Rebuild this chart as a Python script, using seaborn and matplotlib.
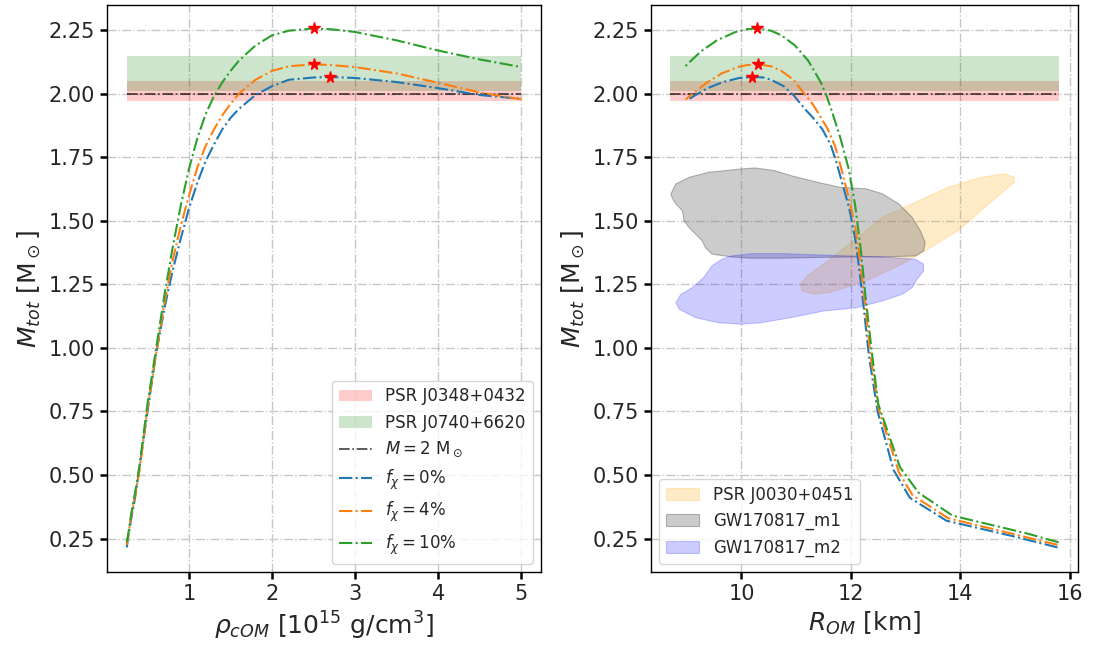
import numpy as np
import pandas as pd
import matplotlib
matplotlib.use("Agg")
import matplotlib.pyplot as plt
import seaborn as sns

# ---------------- data ----------------
rho = [0.25, 0.27, 0.30, 0.35, 0.40, 0.50, 0.60, 0.70, 0.80, 0.90, 1.0, 1.1, 1.2, 1.3,
       1.4, 1.5, 1.6, 1.8, 2.0, 2.2, 2.5, 2.7, 3.0, 3.5, 4.0, 4.5, 5.0]

M_f0 = [0.215, 0.26, 0.32, 0.41, 0.52, 0.75, 0.97, 1.15, 1.30, 1.43, 1.55, 1.65, 1.735, 1.80,
        1.86, 1.905, 1.94, 1.995, 2.03, 2.055, 2.064, 2.066, 2.062, 2.046, 2.022, 1.995, 1.98]
R_f0 = [15.78, 14.95, 13.75, 13.08, 12.78, 12.49, 12.33, 12.24, 12.16, 12.08, 11.97, 11.84,
        11.73, 11.63, 11.48, 11.31, 11.16, 10.95, 10.77, 10.54, 10.40, 10.20, 9.96, 9.66,
        9.38, 9.16, 9.05]

M_f4 = [0.225, 0.27, 0.33, 0.42, 0.51, 0.76, 0.97, 1.17, 1.34, 1.48, 1.60, 1.71, 1.795, 1.86,
        1.915, 1.96, 2.0, 2.055, 2.09, 2.108, 2.116, 2.113, 2.105, 2.08, 2.043, 2.005, 1.978]
R_f4 = [15.78, 14.93, 13.78, 13.13, 12.88, 12.51, 12.36, 12.26, 12.17, 12.08, 11.95, 11.82,
        11.71, 11.58, 11.43, 11.30, 11.15, 10.95, 10.73, 10.54, 10.30, 10.11, 9.93, 9.64,
        9.36, 9.14, 8.98]

M_f10 = [0.235, 0.27, 0.34, 0.43, 0.53, 0.78, 0.99, 1.20, 1.39, 1.56, 1.705, 1.825, 1.92, 1.99,
         2.045, 2.09, 2.13, 2.19, 2.23, 2.248, 2.257, 2.254, 2.243, 2.21, 2.17, 2.135, 2.105]
R_f10 = [15.80, 15.22, 13.86, 13.24, 12.90, 12.50, 12.38, 12.27, 12.18, 12.08, 11.96, 11.81,
         11.67, 11.56, 11.45, 11.33, 11.22, 10.98, 10.73, 10.54, 10.29, 10.10, 9.89, 9.55,
         9.28, 9.10, 8.96]

series_labels = [r'$f_\chi = 0\%$', r'$f_\chi = 4\%$', r'$f_\chi = 10\%$']
series_colors = ['C0', 'C1', 'C2']

# mass constraints
J0348 = (1.97, 2.05)
J0740 = (2.01, 2.15)
M_ref = 2.0
R_band = (8.7, 15.8)

# GW / NICER credible regions (R [km], M [Msun]) outlines
GW_m1_R = [8.71, 8.80, 9.04, 9.40, 10.00, 10.24, 10.60, 10.90, 11.38, 11.80, 12.28, 12.58,
           12.88, 13.12, 13.27, 13.36, 13.33, 13.18, 12.58, 11.98, 11.38, 10.78, 10.18,
           9.82, 9.46, 9.34, 9.28, 9.16, 9.04, 8.95, 8.92, 8.80, 8.73]
GW_m1_M = [1.606, 1.645, 1.671, 1.691, 1.704, 1.708, 1.698, 1.678, 1.652, 1.632, 1.626, 1.606,
           1.566, 1.514, 1.461, 1.415, 1.382, 1.362, 1.358, 1.358, 1.356, 1.353, 1.353,
           1.358, 1.369, 1.395, 1.422, 1.448, 1.474, 1.500, 1.540, 1.566, 1.592]

GW_m2_R = [9.82, 10.18, 10.78, 11.38, 11.98, 12.58, 13.18, 13.33, 13.33, 13.21, 13.12, 12.94,
           12.58, 12.10, 11.50, 10.90, 10.36, 10.00, 9.58, 9.16, 8.86, 8.80, 8.89, 9.10,
           9.31, 9.46, 9.64]
GW_m2_M = [1.362, 1.371, 1.371, 1.366, 1.362, 1.358, 1.349, 1.330, 1.303, 1.270, 1.237, 1.211,
           1.185, 1.158, 1.145, 1.119, 1.099, 1.093, 1.099, 1.119, 1.152, 1.178, 1.211, 1.237,
           1.277, 1.323, 1.349]

J0030_R = [11.08, 11.20, 11.50, 11.98, 12.58, 13.18, 13.78, 14.38, 14.81, 14.99, 14.99, 14.81,
           14.38, 13.96, 13.36, 12.94, 12.28, 11.62, 11.32, 11.11]
J0030_M = [1.251, 1.283, 1.330, 1.409, 1.514, 1.573, 1.632, 1.671, 1.685, 1.671, 1.652, 1.619,
           1.540, 1.461, 1.382, 1.330, 1.264, 1.218, 1.211, 1.224]

# ---------------- style ----------------
sns.set_style("white")
plt.rcParams['font.family'] = ['DejaVu Sans']
plt.rcParams['mathtext.fontset'] = 'dejavusans'

fig = plt.figure(figsize=(10.93, 6.47), dpi=100)
axL = fig.add_axes([0.0979, 0.116, 0.3971, 0.876])
axR = fig.add_axes([0.5956, 0.116, 0.3907, 0.876])

Ms = [M_f0, M_f4, M_f10]
Rs = [R_f0, R_f4, R_f10]

for ax in (axL, axR):
    ax.grid(True, linestyle='-.', color='0.78', linewidth=1.0)
    ax.set_axisbelow(True)
    for s in ax.spines.values():
        s.set_color('black')
        s.set_linewidth(1.0)
    ax.tick_params(axis='both', which='major', labelsize=15, length=5, width=1.8,
                   direction='out', color='black', bottom=True, left=True)

# ---- left panel ----
hL = []
xr = [rho[0], rho[-1]]
hL.append(axL.fill_between(xr, [J0348[0]] * 2, [J0348[1]] * 2, color='red', alpha=0.2,
                           linewidth=0, label='PSR J0348+0432'))
hL.append(axL.fill_between(xr, [J0740[0]] * 2, [J0740[1]] * 2, color='green', alpha=0.2,
                           linewidth=0, label='PSR J0740+6620'))
hL += axL.plot(xr, [M_ref] * 2, linestyle='-.', color='black', alpha=0.75, linewidth=1.2,
               label=r'$M = 2\ \mathrm{M}_\odot$')
for M, lab, col in zip(Ms, series_labels, series_colors):
    df = pd.DataFrame({'rho': rho, 'M': M})
    sns.lineplot(data=df, x='rho', y='M', ax=axL, sort=False, estimator=None,
                 color=col, linestyle='-.', linewidth=1.5, label=lab, legend=False)
    hL.append(axL.lines[-1])
    i = int(np.argmax(M))
    axL.plot(rho[i], M[i], marker='*', color='red', markersize=8.5, linestyle='none', zorder=5)

axL.set_xlim(0.0125, 5.2375)
axL.set_ylim(0.1185, 2.3485)
axL.set_yticks([0.25, 0.5, 0.75, 1.0, 1.25, 1.5, 1.75, 2.0, 2.25])
axL.set_xticks([1, 2, 3, 4, 5])
axL.set_xlabel(r'$\rho_{cOM}$ [10$^{15}$ g/cm$^3$]', fontsize=18)
axL.set_ylabel(r'$M_{tot}$ [M$_\odot$]', fontsize=18)
axL.legend(handles=hL, loc='lower right', fontsize=12, framealpha=0.8)

# ---- right panel ----
hR = []
hR += axR.fill(J0030_R, J0030_M, facecolor='orange', alpha=0.22, edgecolor='orange',
               linewidth=0.8, label='PSR J0030+0451')
hR += axR.fill(GW_m1_R, GW_m1_M, facecolor='gray', alpha=0.4, edgecolor='0.3',
               linewidth=0.8, label='GW170817_m1')
hR += axR.fill(GW_m2_R, GW_m2_M, facecolor='blue', alpha=0.2, edgecolor='blue',
               linewidth=0.8, label='GW170817_m2')
axR.fill_between(R_band, [J0348[0]] * 2, [J0348[1]] * 2, color='red', alpha=0.2, linewidth=0)
axR.fill_between(R_band, [J0740[0]] * 2, [J0740[1]] * 2, color='green', alpha=0.2, linewidth=0)
axR.plot(R_band, [M_ref] * 2, linestyle='-.', color='black', alpha=0.75, linewidth=1.2)
for R, M, col in zip(Rs, Ms, series_colors):
    df = pd.DataFrame({'R': R, 'M': M})
    sns.lineplot(data=df, x='R', y='M', ax=axR, sort=False, estimator=None,
                 color=col, linestyle='-.', linewidth=1.5, legend=False)
    i = int(np.argmax(M))
    axR.plot(R[i], M[i], marker='*', color='red', markersize=8.5, linestyle='none', zorder=5)

axR.set_xlim(8.345, 16.155)
axR.set_ylim(0.1185, 2.3485)
axR.set_yticks([0.25, 0.5, 0.75, 1.0, 1.25, 1.5, 1.75, 2.0, 2.25])
axR.set_xticks([10, 12, 14, 16])
axR.set_xlabel(r'$R_{OM}$ [km]', fontsize=18)
axR.set_ylabel(r'$M_{tot}$ [M$_\odot$]', fontsize=18)
axR.legend(handles=hR, loc='lower left', fontsize=12, framealpha=0.8)

for ax in (axL, axR):
    ax.yaxis.set_major_formatter(matplotlib.ticker.FormatStrFormatter('%.2f'))

fig.savefig('out.png', dpi=100)
